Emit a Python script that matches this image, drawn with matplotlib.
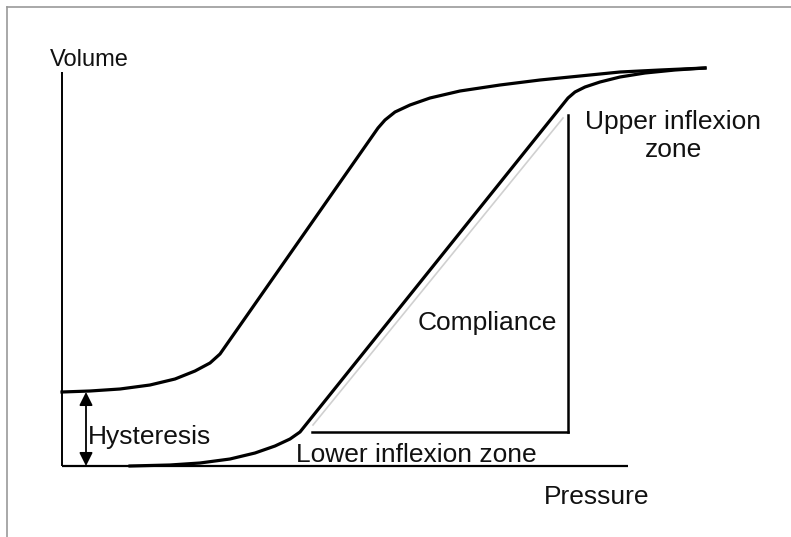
import matplotlib
matplotlib.use("Agg")
import matplotlib.pyplot as plt
from matplotlib.lines import Line2D

plt.rcParams['font.family'] = ['Liberation Sans', 'DejaVu Sans']

# Schematic pressure-volume loop (arbitrary units, origin at axis corner)
deflation_p = [0, 28, 58, 88, 113, 133, 148, 158, 316, 323, 333, 348, 368, 398,
               438, 478, 518, 558, 598, 643]
deflation_v = [74, 75, 77, 81, 87, 95, 103, 112, 338, 346, 354, 361, 368, 375,
               381, 386, 390, 394, 396, 398]

inflation_p = [68, 108, 138, 168, 193, 213, 228, 238, 506, 513, 523, 538, 558,
               583, 613, 643]
inflation_v = [0, 1, 3, 7, 13, 20, 27, 34, 368, 374, 379, 384, 389, 393, 396, 398]

# compliance guide (light line) and triangle legs
slope_p = [251, 501]
slope_v = [41, 348]
tri_base_p = [250, 506]
tri_base_v = [34, 34]
tri_side_p = [506, 506]
tri_side_v = [34, 351]

# hysteresis gap at zero pressure
hyst_p = 24
hyst_v = [0, 74]

axis_p_max = 566
axis_v_max = 394

fig = plt.figure(figsize=(7.91, 5.37), dpi=100)
ax = fig.add_axes([0, 0, 1, 1])
ax.set_xlim(-62, 729)
ax.set_ylim(-71, 466)
ax.axis('off')

# axes lines
ax.plot([0, axis_p_max], [0, 0], color='black', lw=1.6, solid_capstyle='butt')
ax.plot([0, 0], [0, axis_v_max], color='black', lw=1.4, solid_capstyle='butt')

ax.plot(deflation_p, deflation_v, color='black', lw=2.3, solid_joinstyle='round')
ax.plot(inflation_p, inflation_v, color='black', lw=2.3, solid_joinstyle='round')
ax.plot(slope_p, slope_v, color='#d0d0d0', lw=1.2)
ax.plot(tri_base_p, tri_base_v, color='black', lw=1.8)
ax.plot(tri_side_p, tri_side_v, color='black', lw=1.8)

ax.annotate('', xy=(hyst_p, hyst_v[0]), xytext=(hyst_p, hyst_v[1]),
            arrowprops=dict(arrowstyle='<|-|>', color='black', lw=1.3,
                            mutation_scale=20, shrinkA=0, shrinkB=0))

ax.text(27, 406, 'Volume', fontsize=17, ha='center', va='center', color='#111111')
ax.text(535, -31, 'Pressure', fontsize=19, ha='center', va='center', color='#111111')
ax.text(611, 330, 'Upper inflexion\nzone', fontsize=19, ha='center', va='center',
        linespacing=1.25, color='#111111')
ax.text(425, 143, 'Compliance', fontsize=19, ha='center', va='center', color='#111111')
ax.text(26, 29, 'Hysteresis', fontsize=19, ha='left', va='center', color='#111111')
ax.text(234, 11, 'Lower inflexion zone', fontsize=19, ha='left', va='center', color='#111111')

# thin grey frame on the top and left edges
fig.add_artist(Line2D([7 / 791, 1], [1 - 7 / 537, 1 - 7 / 537], color='#9a9a9a', lw=1.2))
fig.add_artist(Line2D([7 / 791, 7 / 791], [0, 1 - 7 / 537], color='#9a9a9a', lw=1.2))

fig.savefig('out.png', dpi=100)
